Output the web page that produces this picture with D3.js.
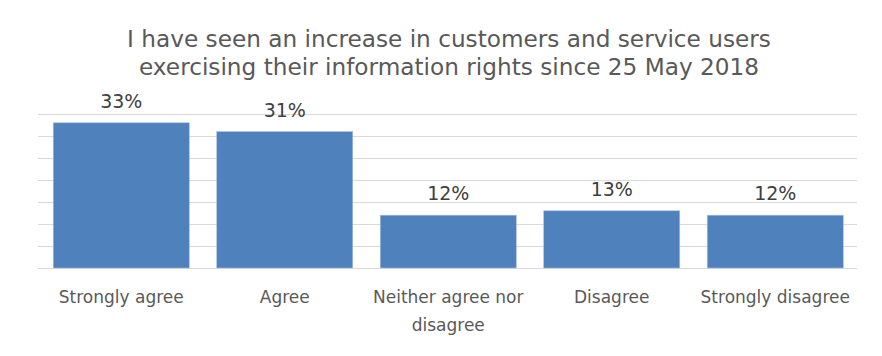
<!DOCTYPE html>
<html>
<head>
<meta charset="utf-8">
<script src="https://cdn.jsdelivr.net/npm/d3@7"></script>
<style>
  html, body { margin: 0; padding: 0; background: #fff; }
  svg { display: block; }
  text { font-family: "DejaVu Sans", sans-serif; }
</style>
</head>
<body>
<div id="chart"></div>
<script>
const titleLines = ["I have seen an increase in customers and service users",
                    "exercising their information rights since 25 May 2018"];
const categories = ["Strongly agree", "Agree", "Neither agree nor disagree", "Disagree", "Strongly disagree"];
const categoryLines = [["Strongly agree"], ["Agree"], ["Neither agree nor", "disagree"], ["Disagree"], ["Strongly disagree"]];
const values = [33, 31, 12, 13, 12];
const valueLabels = ["33%", "31%", "12%", "13%", "12%"];
const gridTicks = [0, 5, 10, 15, 20, 25, 30, 35];

const W = 882, H = 356;
const svg = d3.select("#chart").append("svg").attr("width", W).attr("height", H);

const x = d3.scaleBand().domain(categories).range([39.5, 857]).paddingInner(0.168).paddingOuter(0.084);
const y = d3.scaleLinear().domain([0, 35]).range([268, 114]);

// gridlines
svg.append("g").selectAll("line").data(gridTicks).join("line")
  .attr("x1", 38).attr("x2", 857)
  .attr("y1", d => y(d) + 0.5).attr("y2", d => y(d) + 0.5)
  .attr("stroke", "#d9d9d9").attr("stroke-width", 1);

// bars
svg.append("g").selectAll("rect").data(values).join("rect")
  .attr("x", (d, i) => x(categories[i]))
  .attr("width", x.bandwidth())
  .attr("y", d => y(d))
  .attr("height", d => y(0) - y(d))
  .attr("fill", "#4f81bd")
  .attr("stroke", "#a7bfde").attr("stroke-width", 0.6);

// value labels
svg.append("g").selectAll("text").data(values).join("text")
  .attr("x", (d, i) => x(categories[i]) + x.bandwidth() / 2)
  .attr("y", d => y(d) - 15)
  .attr("text-anchor", "middle")
  .attr("font-size", 19)
  .attr("fill", "#404040")
  .text((d, i) => valueLabels[i]);

// category labels
const cg = svg.append("g");
categoryLines.forEach((lines, i) => {
  const t = cg.append("text")
    .attr("x", x(categories[i]) + x.bandwidth() / 2)
    .attr("y", 302.5)
    .attr("text-anchor", "middle")
    .attr("font-size", 17)
    .attr("fill", "#595959");
  lines.forEach((l, j) => t.append("tspan")
    .attr("x", x(categories[i]) + x.bandwidth() / 2)
    .attr("dy", j === 0 ? 0 : 28).text(l));
});

// title
const tt = svg.append("text").attr("x", 449).attr("y", 46.5)
  .attr("text-anchor", "middle").attr("font-size", 23.2).attr("fill", "#595959");
titleLines.forEach((l, j) => tt.append("tspan").attr("x", 449).attr("dy", j === 0 ? 0 : 28.5).text(l));
</script>
</body>
</html>
